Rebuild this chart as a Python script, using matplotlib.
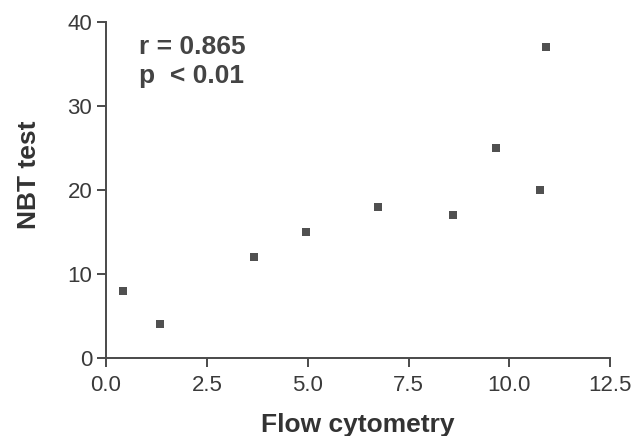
import matplotlib
matplotlib.use("Agg")
import matplotlib.pyplot as plt

plt.rcParams['font.family'] = ['Liberation Sans', 'DejaVu Sans']

# values
flow = [0.42, 1.35, 3.67, 4.96, 6.75, 8.59, 9.68, 10.77, 10.9]
nbt = [8, 4, 12, 15, 18, 17, 25, 20, 37]

x_ticks = [0.0, 2.5, 5.0, 7.5, 10.0, 12.5]
y_ticks = [0, 10, 20, 30, 40]

gray = '#4a4a4a'

fig = plt.figure(figsize=(6.35, 4.36), dpi=100)
ax = fig.add_axes([0.167, 0.179, 0.794, 0.771])

ax.scatter(flow, nbt, marker='s', s=36, color='#505050', linewidths=0, zorder=3)

ax.set_xlim(0, 12.5)
ax.set_ylim(0, 40)
ax.set_xticks(x_ticks)
ax.set_xticklabels([f"{v:.1f}" for v in x_ticks])
ax.set_yticks(y_ticks)

for side in ['top', 'right']:
    ax.spines[side].set_visible(False)
for side in ['left', 'bottom']:
    ax.spines[side].set_color(gray)
    ax.spines[side].set_linewidth(1.4)

ax.tick_params(direction='out', length=6.5, width=1.4, color=gray,
               labelsize=16, labelcolor='#3a3a3a')
ax.tick_params(axis='y', pad=3.5)
ax.tick_params(axis='x', pad=6)

ax.set_xlabel('Flow cytometry', fontsize=19, fontweight='bold', color='#333333', labelpad=12)
# label sits a bit above the axis centre in the original
ax.set_ylabel('NBT test', fontsize=19, fontweight='bold', color='#333333', labelpad=19, y=0.545)

ax.text(0.82, 37.0, 'r = 0.865', fontsize=19, fontweight='bold', color='#444444', va='center')
ax.text(0.82, 33.5, 'p  < 0.01', fontsize=19, fontweight='bold', color='#444444', va='center')

fig.savefig('out.png', dpi=100)
